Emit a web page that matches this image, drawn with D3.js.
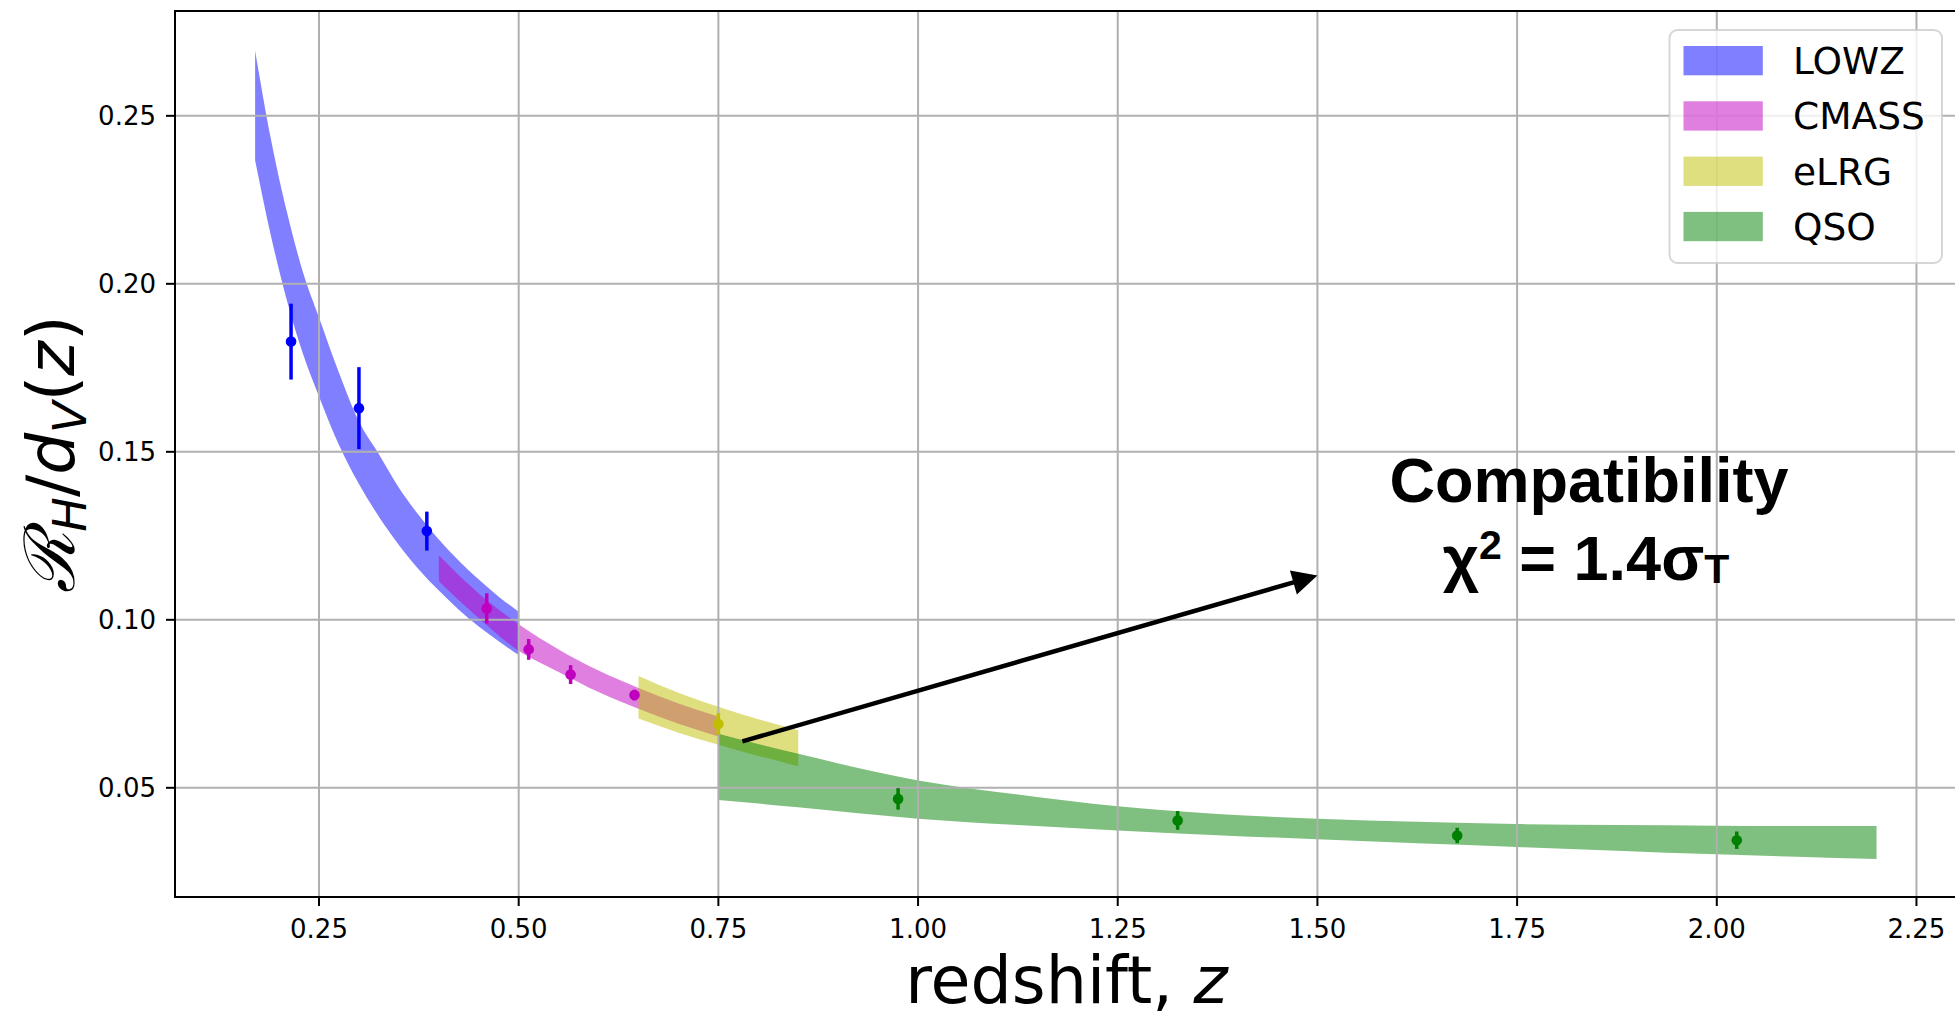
<!DOCTYPE html>
<html>
<head>
<meta charset="utf-8">
<script src="https://cdn.jsdelivr.net/npm/d3@7"></script>
<style>
  html, body { margin: 0; padding: 0; background: #fff; overflow: hidden; }
  svg { display: block; font-family: "DejaVu Sans", sans-serif; }
  text { fill: #000; }
</style>
</head>
<body>
<svg id="chart" width="1955" height="1013"></svg>
<script>
// ---- Model bands: redshift grid with upper / lower edge of R_H/d_V ----
const lowzZ     = [0.17, 0.19, 0.21, 0.23, 0.25, 0.275, 0.30, 0.325, 0.35, 0.375, 0.40, 0.425, 0.45, 0.475, 0.50];
const lowzUpper = [0.2694, 0.2428, 0.2212, 0.2034, 0.1900, 0.1735, 0.1590, 0.1493, 0.1393, 0.1311, 0.1239, 0.1176, 0.1120, 0.1069, 0.1024];
const lowzLower = [0.2368, 0.2141, 0.1949, 0.1791, 0.1665, 0.1520, 0.1404, 0.1307, 0.1223, 0.1150, 0.1087, 0.1030, 0.0980, 0.0936, 0.0895];

const cmassZ     = [0.40, 0.45, 0.50, 0.55, 0.60, 0.65, 0.70, 0.75];
const cmassUpper = [0.1192, 0.1078, 0.0987, 0.0912, 0.0849, 0.0797, 0.0751, 0.0712];
const cmassLower = [0.1115, 0.1005, 0.0908, 0.0845, 0.0785, 0.0735, 0.0691, 0.0653];

const elrgZ     = [0.65, 0.70, 0.75, 0.80, 0.85];
const elrgUpper = [0.0833, 0.0783, 0.0741, 0.0704, 0.0671];
const elrgLower = [0.0706, 0.0664, 0.0628, 0.0595, 0.0564];

const qsoZ     = [0.75, 0.85, 1.00, 1.125, 1.25, 1.375, 1.50, 1.625, 1.75, 1.875, 2.00, 2.10, 2.20];
const qsoUpper = [0.0661, 0.0601, 0.0522, 0.0480, 0.0445, 0.0422, 0.0408, 0.0399, 0.0392, 0.0389, 0.0387, 0.0386, 0.0386];
const qsoLower = [0.0464, 0.0442, 0.0408, 0.0389, 0.0373, 0.0359, 0.0347, 0.0335, 0.0324, 0.0313, 0.0302, 0.0295, 0.0288];

// ---- Measurements: bin centre, value, 1-sigma error ----
const lowzPtZ   = [0.215, 0.300, 0.385];
const lowzPtV   = [0.1828, 0.1630, 0.1264];
const lowzPtErr = [0.0113, 0.0122, 0.0058];

const cmassPtZ   = [0.46, 0.5125, 0.565, 0.645];
const cmassPtV   = [0.1034, 0.0912, 0.0837, 0.0776];
const cmassPtErr = [0.0045, 0.0031, 0.0028, 0.0016];

const elrgPtZ   = [0.75];
const elrgPtV   = [0.0690];
const elrgPtErr = [0.0032];

const qsoPtZ   = [0.975, 1.325, 1.675, 2.025];
const qsoPtV   = [0.0467, 0.0403, 0.0358, 0.0344];
const qsoPtErr = [0.0032, 0.0028, 0.0023, 0.0026];

// ---- Axis ticks ----
const xTicks = [0.25, 0.50, 0.75, 1.00, 1.25, 1.50, 1.75, 2.00, 2.25];
const yTicks = [0.05, 0.10, 0.15, 0.20, 0.25];

// ---- Sample names and colours ----
const sampleNames  = ["LOWZ", "CMASS", "eLRG", "QSO"];
const sampleColors = ["#0000ff", "#bf00bf", "#bfbf00", "#008000"];

// ---- Annotation (data coordinates) ----
const arrowFrom = [0.78, 0.0638];
const arrowTo   = [1.50, 0.1132];
const noteAt    = [1.84, 0.1352, 0.1119];   // x, baseline line 1, baseline line 2

// ---------------------------------------------------------------
const svg = d3.select("#chart");
const M = { left: 175, right: 1958, top: 11, bottom: 897 };

const x = d3.scaleLinear().domain([0.0697, 2.302]).range([M.left, M.right]);
const y = d3.scaleLinear().domain([0.0175, 0.2812]).range([M.bottom, M.top]);

const bands = [
  { z: lowzZ,  up: lowzUpper,  lo: lowzLower,  c: sampleColors[0] },
  { z: cmassZ, up: cmassUpper, lo: cmassLower, c: sampleColors[1] },
  { z: elrgZ,  up: elrgUpper,  lo: elrgLower,  c: sampleColors[2] },
  { z: qsoZ,   up: qsoUpper,   lo: qsoLower,   c: sampleColors[3] }
];
const points = [
  { z: lowzPtZ,  v: lowzPtV,  e: lowzPtErr,  c: sampleColors[0] },
  { z: cmassPtZ, v: cmassPtV, e: cmassPtErr, c: sampleColors[1] },
  { z: elrgPtZ,  v: elrgPtV,  e: elrgPtErr,  c: sampleColors[2] },
  { z: qsoPtZ,   v: qsoPtV,   e: qsoPtErr,   c: sampleColors[3] }
];

// Shaded model bands (drawn first, grid sits on top of them)
const area = d3.area()
  .x(d => x(d.z)).y0(d => y(d.lo)).y1(d => y(d.up))
  .curve(d3.curveMonotoneX);

svg.append("g").selectAll("path")
  .data(bands)
  .join("path")
  .attr("d", b => area(b.z.map((z, i) => ({ z, up: b.up[i], lo: b.lo[i] }))))
  .attr("fill", b => b.c)
  .attr("fill-opacity", 0.5)
  .attr("stroke", "none");

// Grid
const grid = svg.append("g").attr("stroke", "#b0b0b0").attr("stroke-width", 2);
grid.selectAll("line.gx").data(xTicks).join("line").attr("class", "gx")
  .attr("x1", d => x(d)).attr("x2", d => x(d))
  .attr("y1", M.top).attr("y2", M.bottom);
grid.selectAll("line.gy").data(yTicks).join("line").attr("class", "gy")
  .attr("x1", M.left).attr("x2", M.right)
  .attr("y1", d => y(d)).attr("y2", d => y(d));

// Measurements with error bars
const pts = svg.append("g");
points.forEach(s => {
  const rows = s.z.map((z, i) => ({ z, v: s.v[i], e: s.e[i] }));
  pts.append("g").selectAll("line").data(rows).join("line")
    .attr("x1", d => x(d.z)).attr("x2", d => x(d.z))
    .attr("y1", d => y(d.v - d.e)).attr("y2", d => y(d.v + d.e))
    .attr("stroke", s.c).attr("stroke-width", 3.5);
  pts.append("g").selectAll("circle").data(rows).join("circle")
    .attr("cx", d => x(d.z)).attr("cy", d => y(d.v))
    .attr("r", 5.3).attr("fill", s.c);
});

// Axes
const axes = svg.append("g");
axes.append("line").attr("x1", M.left).attr("x2", M.left).attr("y1", M.top - 1).attr("y2", M.bottom + 1)
  .attr("stroke", "#000").attr("stroke-width", 2);
axes.append("line").attr("x1", M.left - 1).attr("x2", M.right).attr("y1", M.bottom).attr("y2", M.bottom)
  .attr("stroke", "#000").attr("stroke-width", 2);
axes.append("line").attr("x1", M.left - 1).attr("x2", M.right).attr("y1", M.top).attr("y2", M.top)
  .attr("stroke", "#000").attr("stroke-width", 2);
axes.append("line").attr("x1", M.right).attr("x2", M.right).attr("y1", M.top).attr("y2", M.bottom)
  .attr("stroke", "#000").attr("stroke-width", 2);

axes.selectAll("line.tx").data(xTicks).join("line").attr("class", "tx")
  .attr("x1", d => x(d)).attr("x2", d => x(d))
  .attr("y1", M.bottom).attr("y2", M.bottom + 9)
  .attr("stroke", "#000").attr("stroke-width", 2);
axes.selectAll("text.tx").data(xTicks).join("text").attr("class", "tx")
  .attr("x", d => x(d)).attr("y", M.bottom + 41)
  .attr("text-anchor", "middle").attr("font-size", 26)
  .text(d => d.toFixed(2));

axes.selectAll("line.ty").data(yTicks).join("line").attr("class", "ty")
  .attr("x1", M.left - 9).attr("x2", M.left)
  .attr("y1", d => y(d)).attr("y2", d => y(d))
  .attr("stroke", "#000").attr("stroke-width", 2);
axes.selectAll("text.ty").data(yTicks).join("text").attr("class", "ty")
  .attr("x", M.left - 19).attr("y", d => y(d))
  .attr("dy", "0.36em")
  .attr("text-anchor", "end").attr("font-size", 26)
  .text(d => d.toFixed(2));

// Axis titles
const xl = svg.append("text")
  .attr("x", (M.left + M.right) / 2).attr("y", 1003)
  .attr("text-anchor", "middle").attr("font-size", 65);
xl.append("tspan").text("redshift, ");
xl.append("tspan").style("font-style", "italic").text("z");

const yl = svg.append("text")
  .attr("transform", `translate(74, ${(M.top + M.bottom) / 2}) rotate(-90)`)
  .attr("text-anchor", "middle").attr("font-size", 66);
yl.append("tspan").style("font-family", "'DejaVu Serif', serif").style("font-style", "italic")
  .attr("font-size", 70).text("\u211B");
yl.append("tspan").style("font-style", "italic").attr("font-size", 46).attr("dy", 12).text("H");
yl.append("tspan").attr("dy", -12).text("/");
yl.append("tspan").style("font-style", "italic").text("d");
yl.append("tspan").style("font-style", "italic").attr("font-size", 46).attr("dy", 12).text("V");
yl.append("tspan").attr("dy", -12).text("(");
yl.append("tspan").style("font-style", "italic").text("z");
yl.append("tspan").text(")");

// Arrow
const ax0 = x(arrowFrom[0]), ay0 = y(arrowFrom[1]);
const ax1 = x(arrowTo[0]),   ay1 = y(arrowTo[1]);
const ang = Math.atan2(ay1 - ay0, ax1 - ax0);
const headL = 25, headW = 12.5;
const bx = ax1 - headL * Math.cos(ang), by = ay1 - headL * Math.sin(ang);
svg.append("line")
  .attr("x1", ax0).attr("y1", ay0).attr("x2", bx + 2 * Math.cos(ang)).attr("y2", by + 2 * Math.sin(ang))
  .attr("stroke", "#000").attr("stroke-width", 4.5);
svg.append("path")
  .attr("d", `M${ax1},${ay1} L${bx - headW * Math.sin(ang)},${by + headW * Math.cos(ang)} L${bx + headW * Math.sin(ang)},${by - headW * Math.cos(ang)} Z`)
  .attr("fill", "#000");

// Annotation text
const noteFont = "'Liberation Sans', Arial, Helvetica, sans-serif";
svg.append("text")
  .attr("x", x(noteAt[0])).attr("y", y(noteAt[1]))
  .attr("text-anchor", "middle")
  .style("font-family", noteFont).style("font-weight", "bold")
  .attr("font-size", 63)
  .text("Compatibility");
const l2 = svg.append("text")
  .attr("x", x(noteAt[0]) - 3).attr("y", y(noteAt[2]))
  .attr("text-anchor", "middle")
  .style("font-family", noteFont).style("font-weight", "bold")
  .attr("font-size", 63);
l2.append("tspan").text("\u03C7");
l2.append("tspan").attr("font-size", 41).attr("dy", -21).text("2");
l2.append("tspan").attr("dy", 21).text(" = 1.4\u03C3");
l2.append("tspan").attr("font-size", 41).attr("dy", 3).text("T");

// Legend
const lg = svg.append("g");
lg.append("rect")
  .attr("x", 1669.5).attr("y", 30).attr("width", 272.5).attr("height", 233)
  .attr("rx", 8).attr("ry", 8)
  .attr("fill", "#fff").attr("fill-opacity", 0.8)
  .attr("stroke", "#cccccc").attr("stroke-opacity", 0.8).attr("stroke-width", 2);
const items = lg.selectAll("g.item").data(sampleNames).join("g").attr("class", "item")
  .attr("transform", (d, i) => `translate(0, ${i * 55.3})`);
items.append("rect")
  .attr("x", 1683.5).attr("y", 46).attr("width", 79.3).attr("height", 29.3)
  .attr("fill", (d, i) => sampleColors[i]).attr("fill-opacity", 0.5);
items.append("text")
  .attr("x", 1793).attr("y", 74).attr("font-size", 37.5)
  .text(d => d);
</script>
</body>
</html>
